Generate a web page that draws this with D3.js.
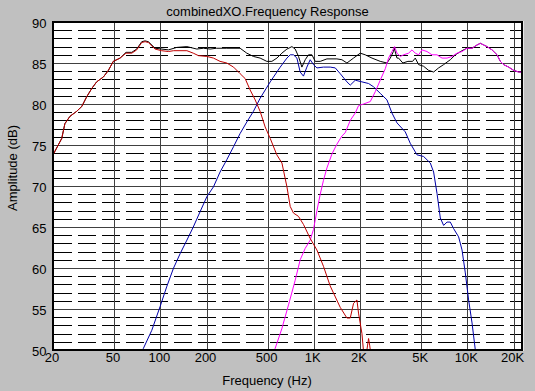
<!DOCTYPE html>
<html><head><meta charset="utf-8">
<script src="https://cdn.jsdelivr.net/npm/d3@7/dist/d3.min.js"></script>
<style>body{margin:0;background:#c0c0c0;}svg{display:block;}text{font-family:"Liberation Sans",Arial,sans-serif;}</style>
</head><body><svg id="c" width="535" height="391"></svg>
<script>
const title = "combinedXO.Frequency Response";
const xLabel = "Frequency (Hz)";
const yLabel = "Amplitude (dB)";
const freqTicks = [20,50,100,200,500,1000,2000,5000,10000,20000];
const freqTickLabels = ["20","50","100","200","500","1K","2K","5K","10K","20K"];
const ampTicks = [50,55,60,65,70,75,80,85,90];

const sumResponse = [[20,73.8],[22.8,75.8],[23.9,77.6],[25.8,78.5],[28.5,79.1],[30.8,79.7],[33.2,80.9],[35.8,81.9],[38.5,82.7],[42.6,83.3],[45.9,84.1],[49.4,85.2],[54.7,85.6],[59.8,86.3],[65.2,86.3],[70.2,86.7],[75.7,87.6],[79.6,87.7],[83.6,87.6],[92.4,86.8],[113,86.6],[128,86.9],[149,87.0],[173,86.7],[191,86.8],[211,86.7],[233,86.8],[271,86.8],[331,86.8],[366,86.2],[404,85.8],[447,85.6],[494,85.2],[533,85.2],[575,85.6],[619,86.2],[668,86.7],[720,87.0],[756,86.7],[795,85.8],[836,84.5],[879,85.4],[923,86.0],[972,86.0],[1021,85.2],[1101,85.2],[1217,85.5],[1414,85.5],[1524,85.4],[1643,85.0],[1814,85.6],[2006,86.2],[2162,86.0],[2392,85.6],[2708,85.2],[2995,85.0],[3148,85.6],[3300,86.4],[3342,86.8],[3480,85.6],[3565,85.6],[3800,85.0],[4100,85.2],[4400,85.2],[4580,85.6],[4814,84.8],[5188,84.6],[5594,84.1],[6030,83.9],[6498,84.4],[7006,84.8],[7746,85.4],[8350,86.0],[9234,86.5],[9954,86.8],[10730,86.8],[11566,87.2],[12154,87.4],[12774,87.2],[13440,87.0],[14486,86.6],[15614,86.0],[16408,85.2],[17238,84.8],[18584,84.5],[20032,84.1],[21594,83.9],[22726,83.9]];

const wooferResponse = [[20,73.8],[22.8,75.8],[23.9,77.6],[25.8,78.5],[28.5,79.1],[30.8,79.7],[33.2,80.9],[35.8,81.9],[38.5,82.7],[42.6,83.3],[45.9,84.1],[49.4,85.2],[54.7,85.6],[59.8,86.2],[65.2,86.2],[70.2,86.6],[75.7,87.5],[79.6,87.6],[83.6,87.5],[92.4,86.7],[102,86.5],[113,86.4],[122,86.5],[149,86.5],[164,86.2],[177,85.9],[201,85.8],[222,85.6],[245,85.2],[271,85.0],[300,84.5],[331,83.7],[357,83.1],[385,81.7],[415,80.5],[447,79.1],[482,77.2],[520,75.8],[574,73.8],[620,72.8],[668,69.9],[702,67.5],[737,66.7],[794,66.3],[857,65.3],[947,63.6],[1047,62.2],[1156,60.2],[1279,57.8],[1486,55.2],[1643,53.9],[1727,53.9],[1815,55.7],[1909,56.1],[1955,54.5],[2058,52.0],[2108,49.8],[2180,49.0],[2240,50.6],[2273,51.4],[2310,50.6],[2391,48.5]];

const midResponse = [[72,48.8],[77.6,50.2],[88,52.4],[99.7,55.3],[110,57.7],[122,60.0],[135,61.8],[149,63.4],[164,65.0],[182,66.9],[201,68.7],[222,69.9],[245,71.7],[271,73.2],[300,74.8],[331,76.4],[366,77.8],[404,79.1],[447,80.7],[520,82.7],[604,84.5],[668,85.6],[702,86.0],[737,86.0],[776,85.6],[815,83.9],[856,83.4],[901,84.5],[947,85.4],[995,84.8],[1048,84.4],[1156,84.5],[1279,84.5],[1379,84.4],[1486,83.7],[1643,82.7],[1727,82.3],[1861,82.9],[2058,82.7],[2273,82.5],[2449,82.1],[2708,81.3],[2995,80.5],[3228,78.9],[3480,77.7],[3942,76.6],[4250,75.2],[4698,73.8],[5188,73.6],[5738,72.8],[6030,71.7],[6344,69.1],[6668,66.1],[7006,65.2],[7374,65.6],[7746,65.6],[8140,64.8],[8774,63.8],[9234,62.2],[9702,59.4],[10194,56.1],[10730,53.3],[11272,50.0],[11600,48.5]];

const tweeterResponse = [[530,48.5],[560,50.2],[619,52.6],[684,55.5],[756,58.5],[815,61.0],[879,62.4],[947,63.4],[995,64.7],[1048,67.0],[1101,69.0],[1156,70.7],[1217,72.2],[1312,73.9],[1414,75.1],[1524,76.1],[1602,76.5],[1727,78.0],[1861,78.9],[1956,79.8],[2108,80.0],[2332,80.3],[2514,81.5],[2708,82.9],[2920,84.3],[3068,85.6],[3228,86.4],[3357,87.0],[3480,86.2],[3657,85.8],[3842,86.0],[4144,86.2],[4360,86.6],[4580,86.2],[4814,86.0],[5066,86.6],[5462,86.4],[5886,86.0],[6344,86.0],[6840,85.6],[7374,85.6],[7944,85.8],[8564,86.2],[9234,86.4],[9954,86.8],[10730,86.8],[11566,87.2],[12154,87.4],[12774,87.2],[13440,87.0],[14486,86.6],[15614,86.0],[16408,85.2],[17238,84.8],[18584,84.5],[20032,84.1],[21594,83.9],[22726,83.9]];

const L = 53, R = 522, T = 22, B = 350;
const svg = d3.select("#c");
const x = d3.scaleLog().domain([20, 22700]).range([L, R]);
const y = d3.scaleLinear().domain([50, 90]).range([B, T]);

svg.append("rect").attr("x",0).attr("y",0).attr("width",535).attr("height",391).attr("fill","#c0c0c0");
svg.append("rect").attr("x",L).attr("y",T).attr("width",R-L).attr("height",B-T).attr("fill","#fff");

svg.append("defs").append("clipPath").attr("id","clip").append("rect")
  .attr("x",L).attr("y",T).attr("width",R-L).attr("height",B-T);

const g = svg.append("g").attr("clip-path","url(#clip)");
// minor dashed lines every 1 dB
const minor = d3.range(51, 90).filter(d => d % 5 !== 0);
g.selectAll("line.minor").data(minor).enter().append("line")
  .attr("x1", L+1).attr("x2", R)
  .attr("y1", d => Math.round(y(d))+0.5).attr("y2", d => Math.round(y(d))+0.5)
  .attr("stroke","#000").attr("stroke-width",1).attr("stroke-dasharray","18,6");
// major horizontal
g.selectAll("line.hmaj").data(ampTicks.filter(d=>d>50&&d<90)).enter().append("line")
  .attr("x1", L).attr("x2", R)
  .attr("y1", d => Math.round(y(d))+0.5).attr("y2", d => Math.round(y(d))+0.5)
  .attr("stroke","#404040").attr("stroke-width",1);
// vertical
g.selectAll("line.vmaj").data(freqTicks.slice(1)).enter().append("line")
  .attr("y1", T).attr("y2", B)
  .attr("x1", d => Math.round(x(d))+0.5).attr("x2", d => Math.round(x(d))+0.5)
  .attr("stroke","#404040").attr("stroke-width",1);

const line = d3.line().x(d => x(d[0])).y(d => y(d[1]));
const series = [
  {data: sumResponse, color: "#000000"},
  {data: midResponse, color: "#0000a8"},
  {data: tweeterResponse, color: "#ff00ff"},
  {data: wooferResponse, color: "#c00000"}
];
series.forEach(s => {
  g.append("path").datum(s.data).attr("d", line)
    .attr("fill","none").attr("stroke", s.color).attr("stroke-width",1);
});

// border
svg.append("rect").attr("x",L).attr("y",T).attr("width",R-L).attr("height",B-T)
  .attr("fill","none").attr("stroke","#000").attr("stroke-width",2);
svg.append("line").attr("x1",R+1.5).attr("x2",R+1.5).attr("y1",T-1).attr("y2",B+1).attr("stroke","#e8e8e8");

// axes labels
svg.selectAll("text.yt").data(ampTicks).enter().append("text")
  .attr("x", 46.5).attr("y", d => y(d)+1).attr("dy","0.36em")
  .attr("text-anchor","end").attr("font-size","13px").attr("fill","#000").text(d => d);
svg.selectAll("text.xt").data(freqTicks).enter().append("text")
  .attr("x", (d) => x(d)-1).attr("y", 361.5)
  .attr("text-anchor","middle").attr("font-size","13px").attr("fill","#000")
  .text((d,i) => freqTickLabels[i]);

svg.append("text").attr("x",267.5).attr("y",15.5).attr("text-anchor","middle")
  .attr("font-size","13px").attr("fill","#000").text(title);
svg.append("text").attr("x",267).attr("y",385).attr("text-anchor","middle")
  .attr("font-size","13px").attr("fill","#000").text(xLabel);
svg.append("text").attr("transform","translate(16.5,168) rotate(-90)").attr("text-anchor","middle")
  .attr("font-size","13px").attr("fill","#000").text(yLabel);
</script></body></html>
